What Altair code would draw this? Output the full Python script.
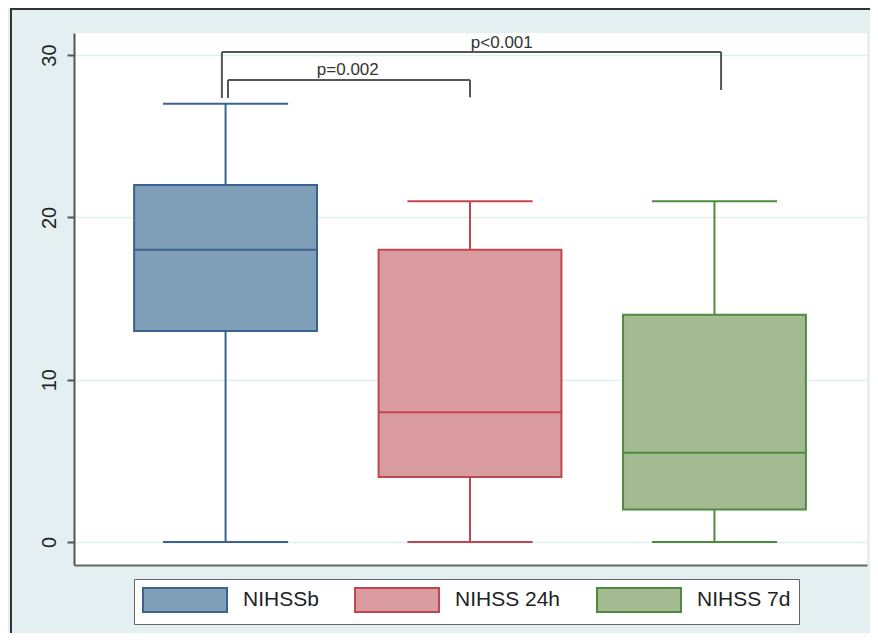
import altair as alt
import pandas as pd

# ---- data ----
groups = ["NIHSSb", "NIHSS 24h", "NIHSS 7d"]
positions = [1, 2, 3]
mins = [0, 0, 0]
q1s = [13, 4, 2]
medians = [18, 8, 5.5]
q3s = [22, 18, 14]
maxs = [27, 21, 21]

y_ticks = [0, 10, 20, 30]

# significance brackets
p_labels = ["p=0.002", "p<0.001"]
bracket_left = [1.01, 0.985]
bracket_right = [2.0, 3.027]
bracket_top = [28.47, 30.19]
leg_left_end = [27.36, 27.36]
leg_right_end = [27.4, 27.85]
label_x = [1.50, 2.13]
label_y = [28.75, 30.42]

# ---- styles ----
fill_colors = ["#7f9fb8", "#d99ba0", "#a3ba93"]
stroke_colors = ["#3a6291", "#c1464f", "#4e8b3d"]
FONT = "Liberation Sans, Arial, Helvetica, sans-serif"
BOX_HALF = 0.374
CAP_HALF = 0.256

boxes = pd.DataFrame({
    "grp": groups, "pos": positions, "lo": mins, "q1": q1s,
    "med": medians, "q3": q3s, "hi": maxs,
})
boxes["bx1"] = boxes["pos"] - BOX_HALF
boxes["bx2"] = boxes["pos"] + BOX_HALF
boxes["cx1"] = boxes["pos"] - CAP_HALF
boxes["cx2"] = boxes["pos"] + CAP_HALF

whisk = pd.concat([
    pd.DataFrame({"grp": groups, "pos": positions, "a": mins, "b": q1s}),
    pd.DataFrame({"grp": groups, "pos": positions, "a": q3s, "b": maxs}),
])
caps = pd.concat([
    pd.DataFrame({"grp": groups, "x1": boxes["cx1"], "x2": boxes["cx2"], "y": mins}),
    pd.DataFrame({"grp": groups, "x1": boxes["cx1"], "x2": boxes["cx2"], "y": maxs}),
])

br = pd.DataFrame({
    "lab": p_labels, "xl": bracket_left, "xr": bracket_right, "yt": bracket_top,
    "yl": leg_left_end, "yr": leg_right_end, "tx": label_x, "ty": label_y,
})

xscale = alt.Scale(domain=[0.38, 3.624], nice=False, zero=False)
yscale = alt.Scale(domain=[-1.417, 31.36], nice=False, zero=False)
fill_scale = alt.Scale(domain=groups, range=fill_colors)
stroke_scale = alt.Scale(domain=groups, range=stroke_colors)

x_axis = alt.Axis(labels=False, ticks=False, grid=False, title=None,
                  domainColor="#666666", domainWidth=2)
y_axis = alt.Axis(values=y_ticks, title=None, labelAngle=270, labelAlign="center",
                  labelBaseline="bottom", labelFontSize=20, labelFont=FONT,
                  labelColor="#222222", labelPadding=8, tickSize=7, tickWidth=2,
                  tickColor="#555555", domainColor="#555555", domainWidth=2,
                  grid=True, gridColor="#e2eef1", gridWidth=1.5)

# legend swatch: 84 x 24 rectangle drawn from a 24px symbol unit
legend = alt.Legend(
    title=None, orient="none", direction="horizontal", legendX=60, legendY=546,
    symbolType="M-1,-1L6,-1L6,1L-1,1Z", symbolSize=576,
    symbolStrokeWidth=2, labelFontSize=21, labelFont=FONT, labelColor="#222222",
    labelOffset=75, columnPadding=32, padding=8, strokeColor="#666666",
    fillColor="white", cornerRadius=0,
)

box_layer = alt.Chart(boxes).mark_bar(strokeWidth=2, opacity=1).encode(
    x=alt.X("bx1:Q", scale=xscale, axis=x_axis),
    x2="bx2:Q",
    y=alt.Y("q1:Q", scale=yscale, axis=y_axis),
    y2="q3:Q",
    fill=alt.Fill("grp:N", scale=fill_scale, legend=legend, sort=groups),
    stroke=alt.Stroke("grp:N", scale=stroke_scale, legend=legend, sort=groups),
)

median_layer = alt.Chart(boxes).mark_rule(strokeWidth=2).encode(
    x="bx1:Q", x2="bx2:Q", y="med:Q",
    stroke=alt.Stroke("grp:N", scale=stroke_scale, legend=None),
)

whisk_layer = alt.Chart(whisk).mark_rule(strokeWidth=2).encode(
    x="pos:Q", y="a:Q", y2="b:Q",
    stroke=alt.Stroke("grp:N", scale=stroke_scale, legend=None),
)

cap_layer = alt.Chart(caps).mark_rule(strokeWidth=2).encode(
    x="x1:Q", x2="x2:Q", y="y:Q",
    stroke=alt.Stroke("grp:N", scale=stroke_scale, legend=None),
)

br_color = "#555555"
br_h = alt.Chart(br).mark_rule(strokeWidth=2, color=br_color).encode(
    x="xl:Q", x2="xr:Q", y="yt:Q")
br_l = alt.Chart(br).mark_rule(strokeWidth=2, color=br_color).encode(
    x="xl:Q", y="yt:Q", y2="yl:Q")
br_r = alt.Chart(br).mark_rule(strokeWidth=2, color=br_color).encode(
    x="xr:Q", y="yt:Q", y2="yr:Q")
br_t = alt.Chart(br).mark_text(fontSize=17, font=FONT, color="#333333",
                               align="center", baseline="alphabetic").encode(
    x="tx:Q", y="ty:Q", text="lab:N")

one = pd.DataFrame({"k": [0]})
frame_left = alt.Chart(one).mark_rule(strokeWidth=2, color="#333333").encode(
    x=alt.value(-63), y=alt.value(-25), y2=alt.value(620))
frame_top = alt.Chart(one).mark_rule(strokeWidth=2, color="#333333").encode(
    x=alt.value(-64), x2=alt.value(820), y=alt.value(-24))

chart = alt.layer(
    box_layer, median_layer, whisk_layer, cap_layer,
    br_h, br_l, br_r, br_t, frame_left, frame_top,
).properties(
    width=793, height=532,
    autosize=alt.AutoSizeParams(type="none"),
    padding={"left": 66, "top": 25, "right": 3, "bottom": 68},
).configure(
    background="#e4eff2",
).configure_view(
    fill="white", stroke=None,
)

chart.save("out.html", embed_options={"renderer": "svg", "actions": False})
